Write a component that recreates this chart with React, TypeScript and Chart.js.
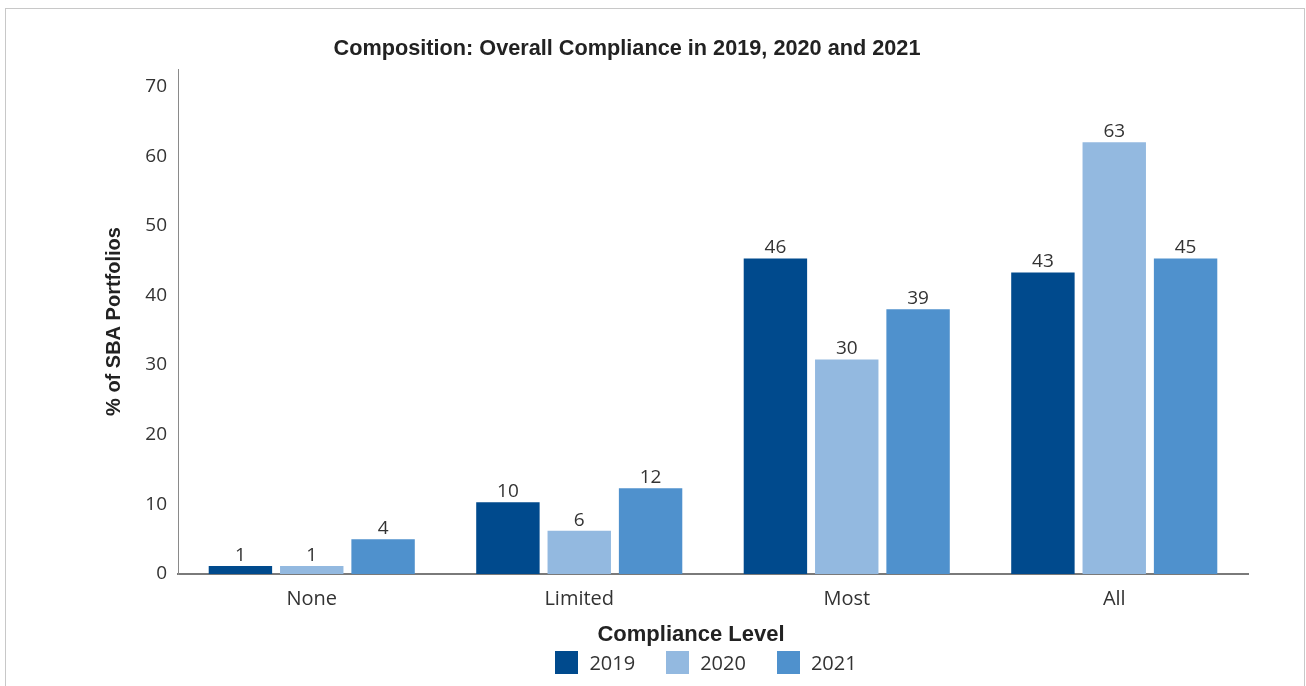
import React, { useEffect, useRef } from "react";
import { Chart, registerables } from "chart.js";

Chart.register(...registerables);

// ---- data ----
const categories = ["None", "Limited", "Most", "All"];
const seriesNames = ["2019", "2020", "2021"];
// bar heights as drawn in the reference
const values2019 = [1.15, 10.3, 45.3, 43.3];
const values2020 = [1.15, 6.2, 30.8, 62.0];
const values2021 = [5.0, 12.3, 38.0, 45.3];
// numbers printed above the bars
const shown2019 = [1, 10, 46, 43];
const shown2020 = [1, 6, 30, 63];
const shown2021 = [4, 12, 39, 45];
const yTicks = [0, 10, 20, 30, 40, 50, 60, 70];
const yMin = 0;
const yMax = 72.5;

const chartTitle = "Composition: Overall Compliance in 2019, 2020 and 2021";
const yTitle = "% of SBA Portfolios";
const xTitle = "Compliance Level";

const colors = ["#004a8d", "#93b9e0", "#4f91cd"];
const seriesValues = [values2019, values2020, values2021];
const seriesShown = [shown2019, shown2020, shown2021];

const REG = "'Open Sans', 'DejaVu Sans', sans-serif";
const BOLD = "'Liberation Sans', Arial, sans-serif";

const valueLabels = {
  id: "valueLabels",
  afterDatasetsDraw(chart: any) {
    const ctx = chart.ctx;
    ctx.save();
    ctx.font = `19px ${REG}`;
    ctx.fillStyle = "#333333";
    ctx.textAlign = "center";
    ctx.textBaseline = "alphabetic";
    chart.data.datasets.forEach((_ds: any, i: number) => {
      const meta = chart.getDatasetMeta(i);
      meta.data.forEach((bar: any, j: number) => {
        ctx.fillText(String(seriesShown[i][j]), bar.x, bar.y - 5);
      });
    });
    ctx.restore();
  },
};

export default function App() {
  const ref = useRef<HTMLCanvasElement | null>(null);

  useEffect(() => {
    if (!ref.current) return;
    const chart = new Chart(ref.current, {
      type: "bar",
      data: {
        labels: categories,
        datasets: seriesNames.map((name, i) => ({
          label: name,
          data: seriesValues[i],
          backgroundColor: colors[i],
          borderWidth: 0,
          categoryPercentage: 0.8,
          barPercentage: 0.889,
        })),
      },
      options: {
        responsive: false,
        animation: false,
        devicePixelRatio: 1,
        layout: { padding: { left: 0, right: 56, top: 0, bottom: 0 } },
        plugins: {
          legend: { display: false },
          tooltip: { enabled: false },
          title: {
            display: true,
            text: chartTitle,
            color: "#222222",
            font: { family: BOLD, size: 21.7, weight: "bold" },
            padding: { top: 27, bottom: 7 },
          },
        },
        scales: {
          x: {
            type: "category",
            offset: true,
            grid: { display: false, drawTicks: false },
            border: { display: true, color: "#7a7a7a", width: 2 },
            ticks: {
              color: "#333333",
              padding: 13,
              font: { family: REG, size: 20 },
            },
          },
          y: {
            min: yMin,
            max: yMax,
            grid: { display: false, drawTicks: false },
            border: { display: true, color: "#8a8a8a", width: 1 },
            afterBuildTicks: (scale: any) => {
              scale.ticks = yTicks.map((v) => ({ value: v }));
            },
            afterFit: (scale: any) => {
              scale.width = 172;
            },
            ticks: {
              color: "#333333",
              padding: 11,
              font: { family: REG, size: 19 },
            },
            title: {
              display: true,
              text: yTitle,
              color: "#222222",
              font: { family: BOLD, size: 20, weight: "bold" },
              padding: { top: 96, bottom: 0 },
            },
          },
        },
      },
      plugins: [valueLabels],
    });
    return () => chart.destroy();
  }, []);

  return (
    <div
      style={{
        position: "fixed",
        left: 0,
        top: 0,
        width: 1306,
        height: 686,
        overflow: "hidden",
        background: "#ffffff",
      }}
    >
      <div
        style={{
          position: "absolute",
          left: 5,
          top: 8,
          width: 1300,
          height: 720,
          boxSizing: "border-box",
          border: "1px solid #c8c8c8",
        }}
      >
        <canvas
          ref={ref}
          width={1298}
          height={615}
          style={{ position: "absolute", left: 0, top: 0, width: 1298, height: 615 }}
        />
        <div
          style={{
            position: "absolute",
            left: 385,
            top: 612,
            width: 600,
            textAlign: "center",
            fontFamily: BOLD,
            fontWeight: "bold",
            fontSize: 22,
            lineHeight: "26px",
            color: "#222222",
          }}
        >
          {xTitle}
        </div>
        <div
          style={{
            position: "absolute",
            left: 400,
            top: 642,
            width: 600,
            height: 23,
            display: "flex",
            justifyContent: "center",
            alignItems: "center",
            fontFamily: REG,
            fontSize: 20,
            color: "#333333",
          }}
        >
          {seriesNames.map((name, i) => (
            <div
              key={name}
              style={{
                display: "flex",
                alignItems: "center",
                marginRight: i < seriesNames.length - 1 ? 31 : 0,
              }}
            >
              <span
                style={{
                  display: "inline-block",
                  width: 23,
                  height: 23,
                  background: colors[i],
                  marginRight: 11,
                }}
              />
              <span style={{ lineHeight: "23px" }}>{name}</span>
            </div>
          ))}
        </div>
      </div>
    </div>
  );
}
